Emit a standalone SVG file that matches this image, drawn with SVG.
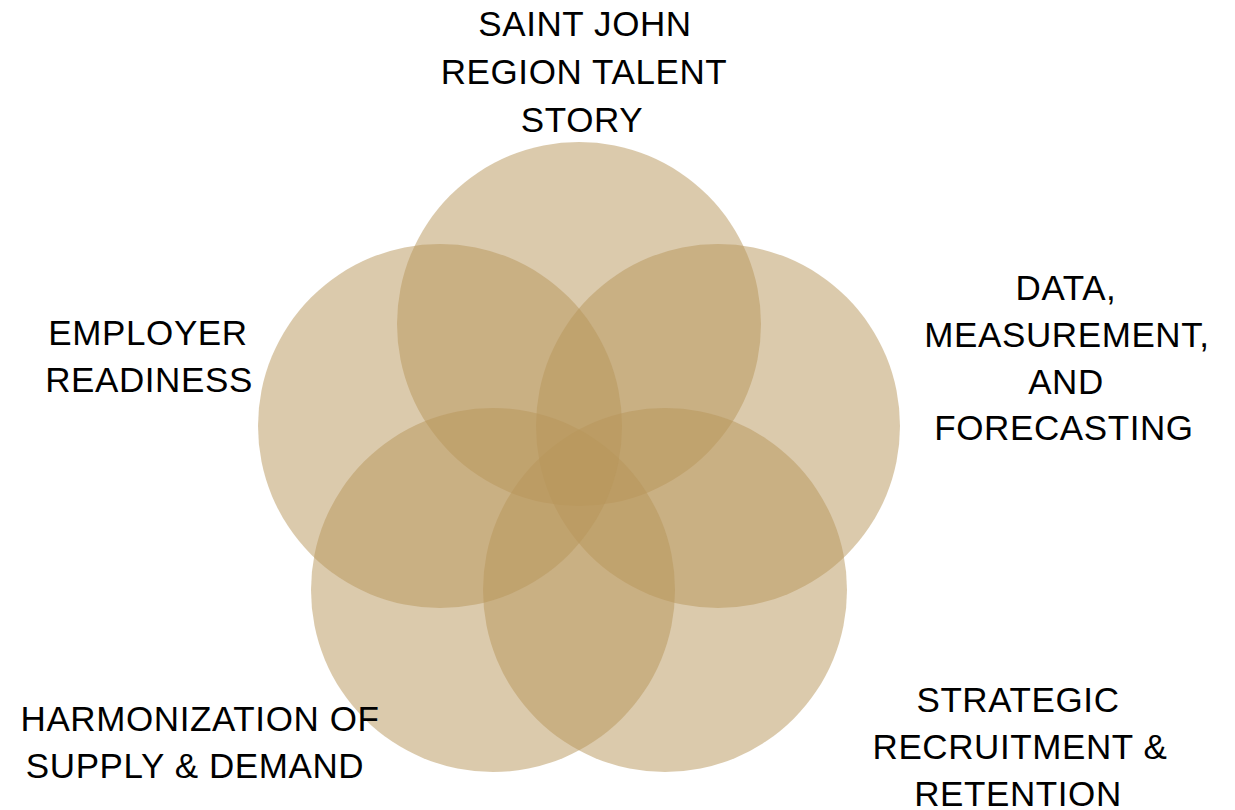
<svg xmlns="http://www.w3.org/2000/svg" width="1235" height="810" viewBox="0 0 1235 810">
<style>
.c{fill:#B7955A;fill-opacity:0.5;}
.t{font-family:"Liberation Sans",Arial,sans-serif;font-size:35px;letter-spacing:0.6px;fill:#000;text-anchor:middle;}
</style>
<rect width="1235" height="810" fill="#fff"/>
<g id="node-story"><circle class="c" cx="579" cy="324" r="182"/></g>
<g id="node-data"><circle class="c" cx="718" cy="426" r="182"/></g>
<g id="node-strategic"><circle class="c" cx="665" cy="590" r="182"/></g>
<g id="node-harmonization"><circle class="c" cx="493" cy="590" r="182"/></g>
<g id="node-employer"><circle class="c" cx="440" cy="426" r="182"/></g>
<g id="connectors"></g>
<g id="labels">
<text class="t" x="585" y="36">SAINT JOHN</text>
<text class="t" x="584" y="84">REGION TALENT</text>
<text class="t" x="582" y="132">STORY</text>
<text class="t" x="1066" y="300">DATA,</text>
<text class="t" x="1067" y="347">MEASUREMENT,</text>
<text class="t" x="1066" y="394">AND</text>
<text class="t" x="1064" y="440">FORECASTING</text>
<text class="t" x="148" y="345">EMPLOYER</text>
<text class="t" x="149" y="392">READINESS</text>
<text class="t" x="200" y="731">HARMONIZATION OF</text>
<text class="t" x="195" y="778">SUPPLY &amp; DEMAND</text>
<text class="t" x="1018" y="712">STRATEGIC</text>
<text class="t" x="1020" y="759">RECRUITMENT &amp;</text>
<text class="t" x="1018" y="806">RETENTION</text>
</g>
</svg>
